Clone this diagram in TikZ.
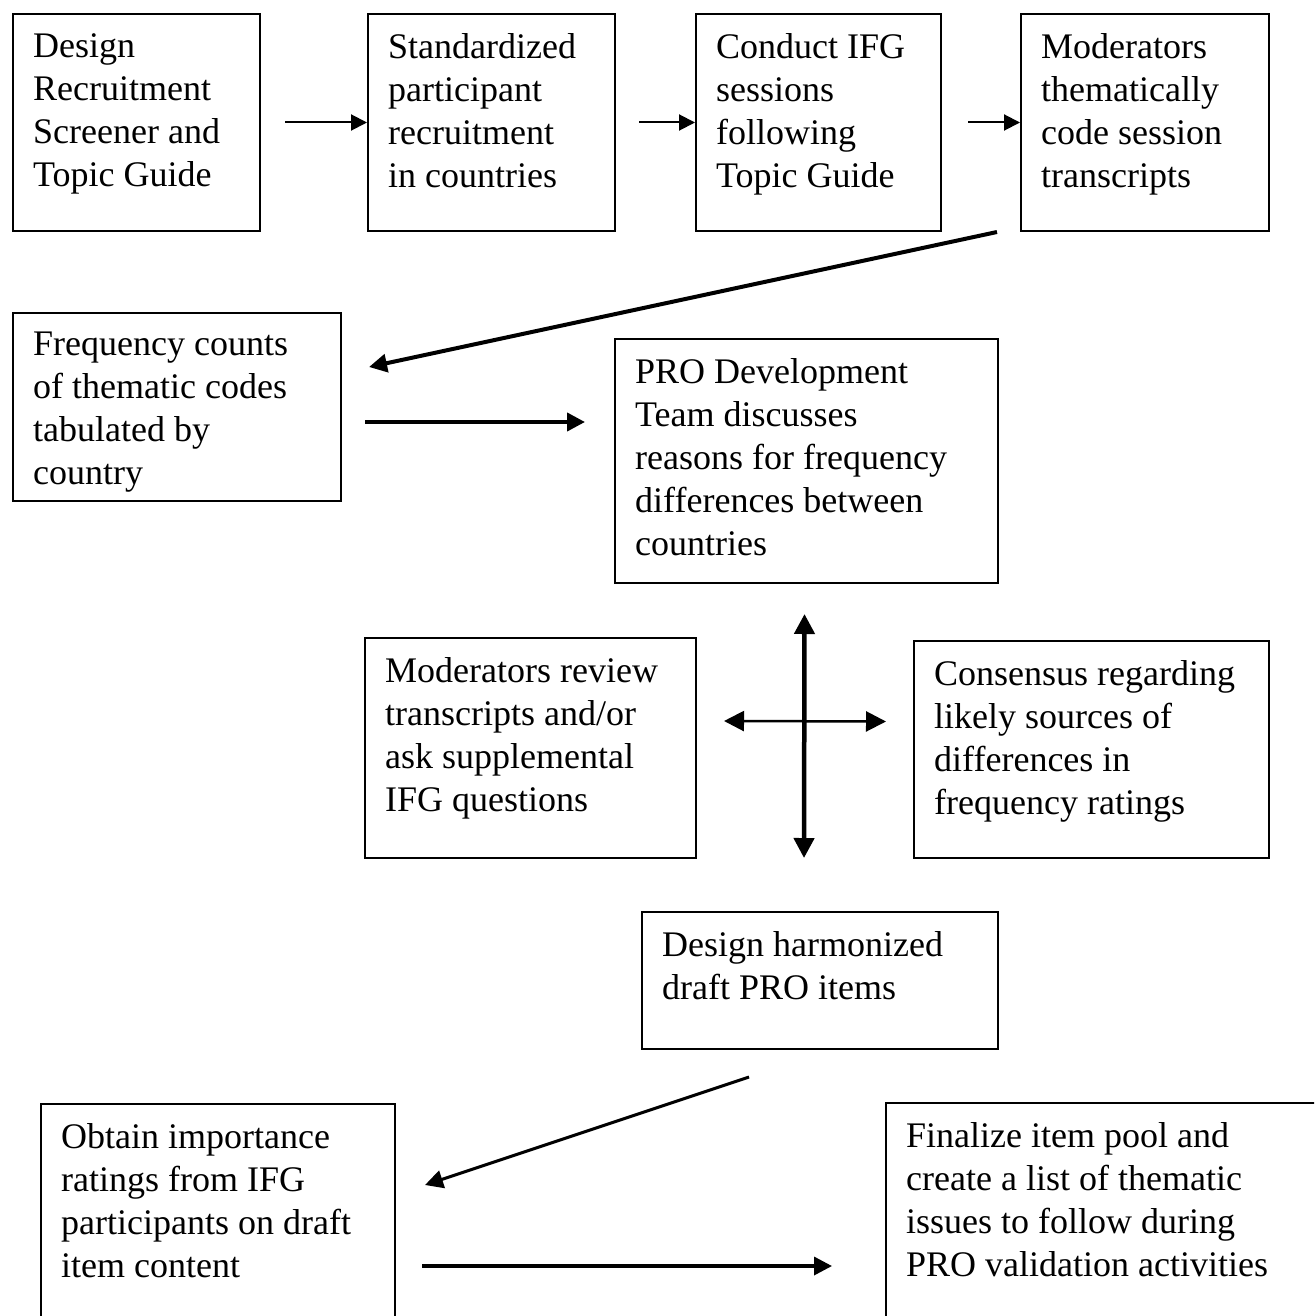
\documentclass[tikz,border=0pt]{standalone}
\usepackage{fontspec}
\setmainfont{Liberation Serif}
\usetikzlibrary{arrows.meta,calc}

\begin{document}
\begin{tikzpicture}[x=1pt, y=-1pt,
    box/.style={draw, line width=2pt, anchor=north west, inner sep=0pt},
    txt/.style={anchor=north west, align=left, inner xsep=21pt, inner ysep=20pt,
                font=\fontsize{36}{43}\selectfont},
    thinarr/.style={line width=2pt, -{Triangle[length=16pt,width=16pt]}},
    thickarr/.style={line width=4pt, -{Triangle[length=18pt,width=18pt]}},
    dblarr/.style={{Triangle[length=20pt,width=20pt]}-{Triangle[length=20pt,width=20pt]}}]

        %% ── page ──────────────────────────────────────
        \useasboundingbox (0,0) rectangle (1314,1316);
        \clip (0,0) rectangle (1314,1316);

        %% ── boxes and their texts ─────────────────────
        \foreach \n/\x/\y/\w/\h/\t in {
          design/12/13/247/217/{Design\\Recruitment\\Screener and\\Topic Guide},
          recruit/367/13/247/217/{Standardized\\participant\\recruitment\\in countries},
          conduct/695/13/245/217/{Conduct IFG\\sessions\\following\\Topic Guide},
          code/1020/13/248/217/{Moderators\\thematically\\code session\\transcripts},
          freq/12/312/328/188/{Frequency counts\\of thematic codes\\tabulated by\\country},
          discuss/614/338/383/244/{PRO Development\\Team discusses\\reasons for frequency\\differences between\\countries},
          review/364/637/331/220/{Moderators review\\transcripts and/or\\ask supplemental\\IFG questions},
          consensus/913/640/355/217/{Consensus regarding\\likely sources of\\differences in\\frequency ratings},
          harmon/641/911/356/137/{Design harmonized\\draft PRO items},
          rating/40/1103/354/240/{Obtain importance\\ratings from IFG\\participants on draft\\item content},
          final/885/1102/450/240/{Finalize item pool and\\create a list of thematic\\issues to follow during\\PRO validation activities}}{
          \node[box, minimum width=\w, minimum height=\h] (\n) at (\x,\y) {};
          \node[txt] (\n-t) at (\n.north west) {\t};
        }

        %% ── top row ───────────────────────────────────
        \draw[thinarr, shorten <=24pt] (design.east) -- (recruit.west);
        \draw[thinarr, shorten <=23pt] (recruit.east) -- (conduct.west);
        \draw[thinarr, shorten <=26pt] (conduct.east) -- (code.west);

        %% ── down to the counts, across to the team ────
        \draw[thickarr] ($(code.south west)+(-23,0)$) -- ($(freq.north east)+(27,55)$);
        \draw[thickarr] ($(freq.east)+(23,15)$) -- ($(discuss.west)+(-29,-39)$);

        %% ── the cross ─────────────────────────────────
        \draw[dblarr, line width=4.5pt] ($(discuss.south)+(-2,30)$) -- ($(harmon.north)+(-16,-53)$);
        \draw[dblarr, line width=2.5pt] ($(review.east)+(27,-27)$) -- ($(consensus.west)+(-27,-28)$);

        %% ── bottom ────────────────────────────────────
        \draw[thickarr, line width=3pt] ($(harmon.south)+(-71,27)$) -- ($(rating.north east)+(29,82)$);
        \draw[thickarr, line width=3.5pt] ($(rating.north east)+(26,163)$) -- ($(final.north west)+(-53,164)$);

\end{tikzpicture}
\end{document}
